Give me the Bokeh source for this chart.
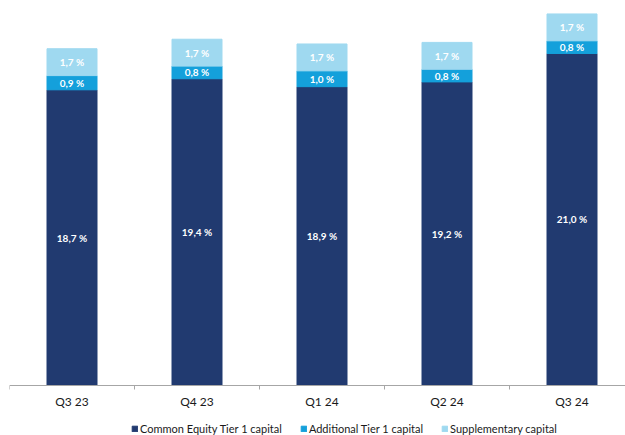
from bokeh.plotting import figure
from bokeh.models import ColumnDataSource, Range1d, FixedTicker, Legend, LegendItem
from bokeh.core.properties import value
from bokeh.embed import file_html
from bokeh.resources import INLINE

categories = ["Q3 23", "Q4 23", "Q1 24", "Q2 24", "Q3 24"]
cet1 = [18.7, 19.4, 18.9, 19.2, 21.0]
at1 = [0.9, 0.8, 1.0, 0.8, 0.8]
supp = [1.7, 1.7, 1.7, 1.7, 1.7]
series_names = ["Common Equity Tier 1 capital", "Additional Tier 1 capital", "Supplementary capital"]
colors = ["#213a70", "#14a0db", "#9fd9f0"]

def fmt(v):
    return f"{v:.1f}".replace(".", ",") + " %"

x = list(range(len(categories)))
b0 = [0.0] * len(x)
t0 = cet1
b1 = cet1
t1 = [a + b for a, b in zip(cet1, at1)]
b2 = t1
t2 = [a + b for a, b in zip(t1, supp)]

src = ColumnDataSource(dict(
    x=x, b0=b0, t0=t0, b1=b1, t1=t1, b2=b2, t2=t2,
    m0=[(a + b) / 2 for a, b in zip(b0, t0)],
    m1=[(a + b) / 2 for a, b in zip(b1, t1)],
    m2=[(a + b) / 2 for a, b in zip(b2, t2)],
    l0=[fmt(v) for v in cet1], l1=[fmt(v) for v in at1], l2=[fmt(v) for v in supp],
))

p = figure(width=625, height=435, output_backend="svg", toolbar_location=None,
           x_range=Range1d(-0.5, -0.5 + 616 / 125), y_range=Range1d(-3.165, 24.35),
           min_border_left=9, min_border_right=0, min_border_top=0, min_border_bottom=0)
p.outline_line_color = None
p.background_fill_color = "white"
p.border_fill_color = "white"
p.xgrid.visible = False
p.ygrid.visible = False
p.yaxis.visible = False

w = 0.4
r0 = p.vbar(x="x", bottom="b0", top="t0", width=w, source=src, fill_color=colors[0], line_color=colors[0])
r1 = p.vbar(x="x", bottom="b1", top="t1", width=w, source=src, fill_color=colors[1], line_color=colors[1])
r2 = p.vbar(x="x", bottom="b2", top="t2", width=w, source=src, fill_color=colors[2], line_color=colors[2])

for m, l in (("m0", "l0"), ("m1", "l1"), ("m2", "l2")):
    p.text(x="x", y=m, text=l, source=src, text_color="white", text_font=value("Lato"),
           text_font_style="bold", text_font_size="10px", text_align="center", text_baseline="middle")

ax = p.xaxis[0]
ax.fixed_location = 0
ax.ticker = FixedTicker(ticks=x, minor_ticks=[i - 0.5 for i in range(len(x) + 1)])
ax.major_label_overrides = {i: c for i, c in zip(x, categories)}
ax.major_tick_out = 0
ax.major_tick_in = 0
ax.minor_tick_out = 4
ax.minor_tick_in = 0
ax.minor_tick_line_color = "#a6a6a6"
ax.axis_line_color = "#a6a6a6"
ax.major_label_text_font = "Lato"
ax.major_label_text_font_size = "12px"
ax.major_label_text_color = "#1a1a1a"
ax.major_label_standoff = 5

legend = Legend(items=[LegendItem(label=n, renderers=[r]) for n, r in zip(series_names, [r0, r1, r2])],
                orientation="horizontal", location=(122, 0))
legend.glyph_width = 7
legend.glyph_height = 7
legend.label_standoff = 2
legend.spacing = 18
legend.padding = 0
legend.margin = 0
legend.border_line_color = None
legend.background_fill_alpha = 0
legend.label_text_font = "Lato"
legend.label_text_font_size = "11px"
legend.label_text_color = "#1a1a1a"
legend.label_height = 12
p.add_layout(legend, "center")

open("out.html", "w").write(file_html(p, INLINE))
